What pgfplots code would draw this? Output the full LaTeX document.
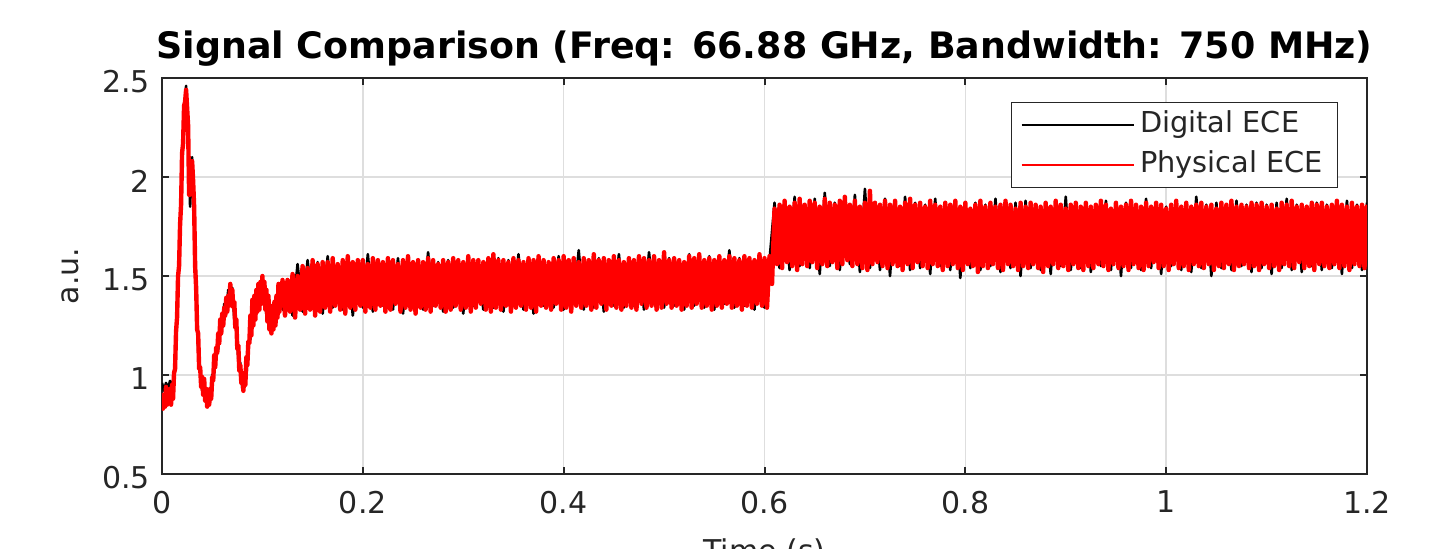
\documentclass[border=0pt]{standalone}
\usepackage{fontspec}
\setmainfont{DejaVu Sans}
\usepackage{pgfplots}
\pgfplotsset{compat=1.18}
\definecolor{axgray}{RGB}{38,38,38}
\definecolor{gridgray}{RGB}{222,222,222}
\begin{document}
\begin{tikzpicture}
\begin{axis}[
  scale only axis,
  width=602.5pt, height=198pt,
  xmin=0, xmax=1.2, ymin=0.5, ymax=2.5,
  xtick={0,0.2,0.4,0.6,0.8,1,1.2},
  xticklabels={0,0.2,0.4,0.6,0.8,1,1.2},
  ytick={0.5,1,1.5,2,2.5},
  yticklabels={0.5,1,1.5,2,2.5},
  tick align=inside,
  major tick length=3.5pt,
  xmajorgrids, ymajorgrids,
  major grid style={gridgray, line width=0.8pt},
  axis line style={axgray, line width=1pt},
  every tick/.style={axgray, line width=1pt},
  tick label style={font=\fontsize{15}{18}\selectfont, text=axgray},
  xticklabel style={yshift=-5pt},
  yticklabel style={xshift=-2.5pt, yshift=-2pt},
  title={Signal Comparison (Freq: 66.88 GHz, Bandwidth: 750 MHz)},
  title style={font=\fontsize{18.2}{21}\selectfont\bfseries, at={(axis description cs:0.5,1)}, anchor=base, yshift=3.5pt},
  xlabel={Time (s)},
  xlabel style={font=\fontsize{15}{18}\selectfont, text=axgray, at={(axis description cs:0.5,-0.22)}, anchor=base},
  ylabel={a.u.},
  ylabel style={font=\fontsize{15}{18}\selectfont, text=axgray, at={(axis description cs:-0.0689,0.5)}, anchor=base},
  legend style={at={(0.976,0.939)}, anchor=north east, font=\fontsize{14.4}{17}\selectfont, text=axgray, draw=axgray, line width=0.6pt, fill=white, inner xsep=4.5pt, inner ysep=1.25pt, row sep=0pt, column sep=0pt, nodes={text height=11pt, text depth=3.5pt, inner sep=2.75pt}},
  legend image code/.code={\draw[#1, line width=1.1pt] (0pt,0pt) -- (56pt,0pt);},
  legend cell align=left,
]
\addplot[black, line width=1.3pt, line join=round] coordinates {
(0.000,0.96)(0.002,0.92)(0.004,0.96)(0.006,0.93)(0.008,0.97)(0.010,0.94)(0.012,1.00)(0.014,1.18)(0.016,1.49)(0.018,1.72)
(0.020,2.09)(0.022,2.30)(0.024,2.46)(0.026,2.18)(0.028,1.85)(0.030,2.10)(0.032,1.80)(0.034,1.45)(0.036,1.13)(0.038,1.03)
(0.040,0.92)(0.042,0.95)(0.044,0.87)(0.046,0.91)(0.048,0.87)(0.050,1.00)(0.052,1.01)(0.054,1.14)(0.056,1.13)(0.058,1.26)
(0.060,1.24)(0.062,1.36)(0.064,1.32)(0.066,1.43)(0.068,1.36)(0.070,1.44)(0.072,1.28)(0.074,1.26)(0.076,1.08)(0.078,1.06)
(0.080,0.93)(0.082,1.00)(0.084,0.99)(0.086,1.17)(0.088,1.18)(0.090,1.34)(0.092,1.29)(0.094,1.42)(0.096,1.35)(0.098,1.47)
(0.100,1.39)(0.102,1.45)(0.104,1.30)(0.106,1.36)(0.108,1.23)(0.110,1.33)(0.112,1.25)(0.114,1.40)(0.116,1.31)(0.118,1.45)
(0.120,1.33)
(0.125,1.48)(0.13,1.30)(0.135,1.56)(0.14,1.32)(0.145,1.58)(0.15,1.34)(0.155,1.57)(0.16,1.31)(0.165,1.60)(0.17,1.34)
(0.175,1.56)(0.18,1.33)(0.185,1.58)(0.19,1.30)(0.195,1.55)(0.2,1.34)(0.205,1.61)(0.21,1.32)(0.215,1.57)(0.22,1.35)
(0.225,1.56)(0.23,1.33)(0.235,1.59)(0.24,1.31)(0.245,1.56)(0.25,1.34)(0.255,1.58)(0.26,1.33)(0.265,1.62)(0.27,1.35)
(0.275,1.57)(0.28,1.32)(0.285,1.58)(0.29,1.34)(0.295,1.56)(0.3,1.31)(0.305,1.60)(0.31,1.35)(0.315,1.57)(0.32,1.33)
(0.325,1.56)(0.33,1.34)(0.335,1.59)(0.34,1.32)(0.345,1.58)(0.35,1.35)(0.355,1.61)(0.36,1.33)(0.365,1.57)(0.37,1.31)
(0.375,1.58)(0.38,1.35)(0.385,1.56)(0.39,1.34)(0.395,1.60)(0.4,1.33)(0.405,1.58)(0.41,1.36)(0.415,1.63)(0.42,1.33)
(0.425,1.57)(0.43,1.34)(0.435,1.59)(0.44,1.32)(0.445,1.57)(0.45,1.35)(0.455,1.61)(0.46,1.34)(0.465,1.58)(0.47,1.35)
(0.475,1.57)(0.48,1.33)(0.485,1.62)(0.49,1.36)(0.495,1.58)(0.5,1.34)(0.505,1.59)(0.51,1.35)(0.515,1.57)(0.52,1.33)
(0.525,1.61)(0.53,1.35)(0.535,1.58)(0.54,1.34)(0.545,1.60)(0.55,1.33)(0.555,1.57)(0.56,1.36)(0.565,1.63)(0.57,1.34)
(0.575,1.59)(0.58,1.35)(0.585,1.58)(0.59,1.33)(0.595,1.61)(0.6,1.34)(0.605,1.58)(0.61,1.87)
(0.615,1.54)(0.62,1.87)(0.625,1.53)(0.63,1.90)(0.635,1.55)(0.64,1.86)(0.645,1.54)(0.65,1.89)(0.655,1.51)(0.66,1.92)
(0.665,1.55)(0.67,1.87)(0.675,1.53)(0.68,1.88)(0.685,1.56)(0.69,1.91)(0.695,1.52)(0.70,1.94)(0.705,1.54)(0.71,1.87)
(0.715,1.53)(0.72,1.89)(0.725,1.50)(0.73,1.86)(0.735,1.55)(0.74,1.90)(0.745,1.53)(0.75,1.87)(0.755,1.54)(0.76,1.86)
(0.765,1.51)(0.77,1.89)(0.775,1.55)(0.78,1.87)(0.785,1.53)(0.79,1.88)(0.795,1.49)(0.80,1.86)(0.805,1.54)(0.81,1.87)
(0.815,1.53)(0.82,1.86)(0.825,1.55)(0.83,1.89)(0.835,1.52)(0.84,1.85)(0.845,1.54)(0.85,1.87)(0.855,1.50)(0.86,1.88)
(0.865,1.54)(0.87,1.86)(0.875,1.53)(0.88,1.87)(0.885,1.51)(0.89,1.86)(0.895,1.55)(0.90,1.90)(0.905,1.53)(0.91,1.86)
(0.915,1.54)(0.92,1.87)(0.925,1.52)(0.93,1.85)(0.935,1.55)(0.94,1.88)(0.945,1.53)(0.95,1.86)(0.955,1.50)(0.96,1.87)
(0.965,1.54)(0.97,1.86)(0.975,1.53)(0.98,1.89)(0.985,1.54)(0.99,1.87)(0.995,1.51)(1.00,1.85)(1.005,1.55)(1.01,1.87)
(1.015,1.53)(1.02,1.86)(1.025,1.52)(1.03,1.90)(1.035,1.54)(1.04,1.86)(1.045,1.50)(1.05,1.87)(1.055,1.54)(1.06,1.85)
(1.065,1.53)(1.07,1.88)(1.075,1.55)(1.08,1.86)(1.085,1.52)(1.09,1.87)(1.095,1.54)(1.10,1.86)(1.105,1.51)(1.11,1.87)
(1.115,1.54)(1.12,1.89)(1.125,1.53)(1.13,1.86)(1.135,1.52)(1.14,1.85)(1.145,1.55)(1.15,1.87)(1.155,1.53)(1.16,1.86)
(1.165,1.54)(1.17,1.87)(1.175,1.51)(1.18,1.88)(1.185,1.54)(1.19,1.86)(1.195,1.53)(1.20,1.87)
};
\addlegendentry{Digital ECE}
\addplot[red, line width=2.2pt, line join=round] coordinates {
(0.000,0.91)(0.001,0.83)(0.002,0.90)(0.003,0.84)(0.004,0.94)(0.005,0.85)(0.006,0.92)(0.007,0.86)(0.008,0.93)(0.009,0.85)
(0.010,0.95)(0.011,0.88)(0.012,1.01)(0.013,1.03)(0.014,1.22)(0.015,1.29)(0.016,1.50)(0.017,1.55)(0.018,1.76)(0.019,1.86)
(0.020,2.12)(0.021,2.17)(0.022,2.36)(0.023,2.38)(0.024,2.44)(0.025,2.35)(0.026,2.26)(0.027,1.91)(0.028,1.91)(0.029,1.93)
(0.030,2.08)(0.031,1.98)(0.032,1.85)(0.033,1.55)(0.034,1.44)(0.035,1.23)(0.036,1.21)(0.037,1.03)(0.038,1.04)(0.039,0.94)
(0.040,0.99)(0.041,0.90)(0.042,0.98)(0.043,0.87)(0.044,0.93)(0.045,0.84)(0.046,0.91)(0.047,0.85)(0.048,0.93)(0.049,0.88)
(0.050,0.99)(0.051,0.97)(0.052,1.10)(0.053,1.04)(0.054,1.14)(0.055,1.11)(0.056,1.21)(0.057,1.16)(0.058,1.28)(0.059,1.21)
(0.060,1.31)(0.061,1.25)(0.062,1.34)(0.063,1.30)(0.064,1.39)(0.065,1.32)(0.066,1.40)(0.067,1.35)(0.068,1.46)(0.069,1.37)
(0.070,1.43)(0.071,1.34)(0.072,1.37)(0.073,1.24)(0.074,1.28)(0.075,1.13)(0.076,1.15)(0.077,1.02)(0.078,1.05)(0.079,0.96)
(0.080,1.01)(0.081,0.92)(0.082,0.99)(0.083,0.95)(0.084,1.09)(0.085,1.05)(0.086,1.17)(0.087,1.16)(0.088,1.30)(0.089,1.20)
(0.090,1.38)(0.091,1.25)(0.092,1.40)(0.093,1.28)(0.094,1.43)(0.095,1.32)(0.096,1.46)(0.097,1.33)(0.098,1.47)(0.099,1.36)
(0.100,1.50)(0.101,1.36)(0.102,1.47)(0.103,1.33)(0.104,1.43)(0.105,1.27)(0.106,1.40)(0.107,1.23)(0.108,1.35)(0.109,1.21)
(0.110,1.34)(0.111,1.23)(0.112,1.37)(0.113,1.25)(0.114,1.40)(0.115,1.29)(0.116,1.46)(0.117,1.32)(0.118,1.46)(0.119,1.35)
(0.120,1.48)
(0.1225,1.30)(0.125,1.48)(0.1275,1.32)(0.13,1.51)(0.1325,1.29)(0.135,1.50)(0.1375,1.33)(0.14,1.55)(0.1425,1.31)(0.145,1.54)
(0.1475,1.33)(0.15,1.58)(0.1525,1.30)(0.155,1.56)(0.1575,1.32)(0.16,1.57)(0.1625,1.34)(0.165,1.57)(0.1675,1.32)(0.17,1.59)
(0.1725,1.35)(0.175,1.56)(0.1775,1.33)(0.18,1.58)(0.1825,1.31)(0.185,1.60)(0.1875,1.34)(0.19,1.57)(0.1925,1.33)(0.195,1.58)
(0.1975,1.35)(0.2,1.58)(0.2025,1.32)(0.205,1.56)(0.2075,1.34)(0.21,1.59)(0.2125,1.33)(0.215,1.58)(0.2175,1.35)(0.22,1.57)
(0.2225,1.32)(0.225,1.59)(0.2275,1.33)(0.23,1.58)(0.2325,1.36)(0.235,1.56)(0.2375,1.32)(0.24,1.58)(0.2425,1.34)(0.245,1.60)
(0.2475,1.33)(0.25,1.57)(0.2525,1.31)(0.255,1.58)(0.2575,1.34)(0.26,1.57)(0.2625,1.33)(0.265,1.59)(0.2675,1.32)(0.27,1.58)
(0.2725,1.35)(0.275,1.56)(0.2775,1.34)(0.28,1.58)(0.2825,1.32)(0.285,1.57)(0.2875,1.33)(0.29,1.59)(0.2925,1.35)(0.295,1.58)
(0.2975,1.33)(0.3,1.57)(0.3025,1.34)(0.305,1.60)(0.3075,1.32)(0.31,1.58)(0.3125,1.34)(0.315,1.58)(0.3175,1.36)(0.32,1.57)
(0.3225,1.33)(0.325,1.59)(0.3275,1.32)(0.33,1.61)(0.3325,1.34)(0.335,1.58)(0.3375,1.33)(0.34,1.58)(0.3425,1.35)(0.345,1.57)
(0.3475,1.32)(0.35,1.59)(0.3525,1.34)(0.355,1.58)(0.3575,1.35)(0.36,1.57)(0.3625,1.33)(0.365,1.59)(0.3675,1.34)(0.37,1.58)
(0.3725,1.32)(0.375,1.60)(0.3775,1.35)(0.38,1.58)(0.3825,1.34)(0.385,1.57)(0.3875,1.33)(0.39,1.59)(0.3925,1.36)(0.395,1.58)
(0.3975,1.33)(0.4,1.60)(0.4025,1.34)(0.405,1.58)(0.4075,1.32)(0.41,1.59)(0.4125,1.35)(0.415,1.57)(0.4175,1.34)(0.42,1.59)
(0.4225,1.35)(0.425,1.58)(0.4275,1.33)(0.43,1.61)(0.4325,1.34)(0.435,1.58)(0.4375,1.36)(0.44,1.59)(0.4425,1.33)(0.445,1.58)
(0.4475,1.35)(0.45,1.60)(0.4525,1.34)(0.455,1.58)(0.4575,1.33)(0.46,1.57)(0.4625,1.35)(0.465,1.59)(0.4675,1.34)(0.47,1.58)
(0.4725,1.33)(0.475,1.60)(0.4775,1.36)(0.48,1.59)(0.4825,1.34)(0.485,1.58)(0.4875,1.35)(0.49,1.60)(0.4925,1.33)(0.495,1.58)
(0.4975,1.34)(0.5,1.62)(0.5025,1.36)(0.505,1.58)(0.5075,1.34)(0.51,1.59)(0.5125,1.35)(0.515,1.58)(0.5175,1.33)(0.52,1.57)
(0.5225,1.35)(0.525,1.60)(0.5275,1.34)(0.53,1.59)(0.5325,1.36)(0.535,1.61)(0.5375,1.34)(0.54,1.58)(0.5425,1.35)(0.545,1.59)
(0.5475,1.33)(0.55,1.58)(0.5525,1.35)(0.555,1.60)(0.5575,1.34)(0.56,1.58)(0.5625,1.36)(0.565,1.60)(0.5675,1.34)(0.57,1.59)
(0.5725,1.35)(0.575,1.58)(0.5775,1.33)(0.58,1.60)(0.5825,1.35)(0.585,1.59)(0.5875,1.34)(0.59,1.58)(0.5925,1.36)(0.595,1.61)
(0.5975,1.35)(0.6,1.59)(0.6025,1.34)(0.605,1.60)(0.6075,1.46)(0.61,1.84)
(0.6125,1.56)(0.615,1.86)(0.6175,1.54)(0.62,1.88)(0.6225,1.57)(0.625,1.85)(0.6275,1.55)(0.63,1.87)(0.6325,1.53)(0.635,1.89)
(0.6375,1.56)(0.64,1.86)(0.6425,1.55)(0.645,1.88)(0.6475,1.57)(0.65,1.87)(0.6525,1.54)(0.655,1.85)(0.6575,1.56)(0.66,1.89)
(0.6625,1.55)(0.665,1.87)(0.6675,1.57)(0.67,1.86)(0.6725,1.54)(0.675,1.88)(0.6775,1.56)(0.68,1.90)(0.6825,1.58)(0.685,1.86)
(0.6875,1.55)(0.69,1.88)(0.6925,1.56)(0.695,1.85)(0.6975,1.54)(0.7,1.87)(0.7025,1.53)(0.705,1.93)(0.7075,1.56)(0.71,1.87)
(0.7125,1.57)(0.715,1.86)(0.7175,1.55)(0.72,1.88)(0.7225,1.54)(0.725,1.86)(0.7275,1.56)(0.73,1.88)(0.7325,1.55)(0.735,1.85)
(0.7375,1.53)(0.74,1.87)(0.7425,1.56)(0.745,1.89)(0.7475,1.54)(0.75,1.86)(0.7525,1.57)(0.755,1.87)(0.7575,1.55)(0.76,1.85)
(0.7625,1.54)(0.765,1.88)(0.7675,1.56)(0.77,1.86)(0.7725,1.55)(0.775,1.85)(0.7775,1.53)(0.78,1.87)(0.7825,1.55)(0.785,1.86)
(0.7875,1.56)(0.79,1.88)(0.7925,1.54)(0.795,1.85)(0.7975,1.53)(0.8,1.87)(0.8025,1.56)(0.805,1.84)(0.8075,1.55)(0.81,1.86)
(0.8125,1.52)(0.815,1.88)(0.8175,1.55)(0.82,1.85)(0.8225,1.54)(0.825,1.87)(0.8275,1.56)(0.83,1.85)(0.8325,1.54)(0.835,1.86)
(0.8375,1.53)(0.84,1.88)(0.8425,1.56)(0.845,1.86)(0.8475,1.55)(0.85,1.84)(0.8525,1.53)(0.855,1.87)(0.8575,1.55)(0.86,1.85)
(0.8625,1.54)(0.865,1.87)(0.8675,1.56)(0.87,1.86)(0.8725,1.54)(0.875,1.85)(0.8775,1.52)(0.88,1.87)(0.8825,1.55)(0.885,1.85)
(0.8875,1.56)(0.89,1.88)(0.8925,1.54)(0.895,1.86)(0.8975,1.55)(0.9,1.84)(0.9025,1.53)(0.905,1.86)(0.9075,1.56)(0.91,1.87)
(0.9125,1.54)(0.915,1.85)(0.9175,1.53)(0.92,1.87)(0.9225,1.55)(0.925,1.85)(0.9275,1.54)(0.93,1.86)(0.9325,1.56)(0.935,1.88)
(0.9375,1.55)(0.94,1.86)(0.9425,1.53)(0.945,1.84)(0.9475,1.56)(0.95,1.87)(0.9525,1.54)(0.955,1.85)(0.9575,1.55)(0.96,1.86)
(0.9625,1.53)(0.965,1.88)(0.9675,1.56)(0.97,1.86)(0.9725,1.54)(0.975,1.85)(0.9775,1.53)(0.98,1.87)(0.9825,1.55)(0.985,1.85)
(0.9875,1.57)(0.99,1.87)(0.9925,1.54)(0.995,1.86)(0.9975,1.55)(1.0,1.84)(1.0025,1.53)(1.005,1.86)(1.0075,1.56)(1.01,1.88)
(1.0125,1.54)(1.015,1.85)(1.0175,1.55)(1.02,1.87)(1.0225,1.53)(1.025,1.85)(1.0275,1.56)(1.03,1.86)(1.0325,1.55)(1.035,1.87)
(1.0375,1.54)(1.04,1.85)(1.0425,1.56)(1.045,1.86)(1.0475,1.53)(1.05,1.84)(1.0525,1.55)(1.055,1.87)(1.0575,1.54)(1.06,1.86)
(1.0625,1.56)(1.065,1.88)(1.0675,1.53)(1.07,1.85)(1.0725,1.55)(1.075,1.86)(1.0775,1.56)(1.08,1.85)(1.0825,1.54)(1.085,1.87)
(1.0875,1.55)(1.09,1.86)(1.0925,1.53)(1.095,1.87)(1.0975,1.56)(1.1,1.85)(1.1025,1.54)(1.105,1.86)(1.1075,1.55)(1.11,1.84)
(1.1125,1.53)(1.115,1.87)(1.1175,1.56)(1.12,1.86)(1.1225,1.55)(1.125,1.88)(1.1275,1.54)(1.13,1.85)(1.1325,1.57)(1.135,1.86)
(1.1375,1.54)(1.14,1.85)(1.1425,1.55)(1.145,1.87)(1.1475,1.53)(1.15,1.86)(1.1525,1.56)(1.155,1.87)(1.1575,1.55)(1.16,1.85)
(1.1625,1.54)(1.165,1.86)(1.1675,1.56)(1.17,1.88)(1.1725,1.54)(1.175,1.86)(1.1775,1.55)(1.18,1.85)(1.1825,1.53)(1.185,1.87)
(1.1875,1.56)(1.19,1.85)(1.1925,1.55)(1.195,1.86)(1.1975,1.54)(1.2,1.86)
};
\addlegendentry{Physical ECE}
\coordinate (sw) at (rel axis cs:0,0);
\coordinate (ne) at (rel axis cs:1,1);
\end{axis}
\pgfresetboundingbox
\path[use as bounding box] ([shift={(-81pt,-37.5pt)}]sw) rectangle ([shift={(43pt,39pt)}]ne);
\end{tikzpicture}
\end{document}
